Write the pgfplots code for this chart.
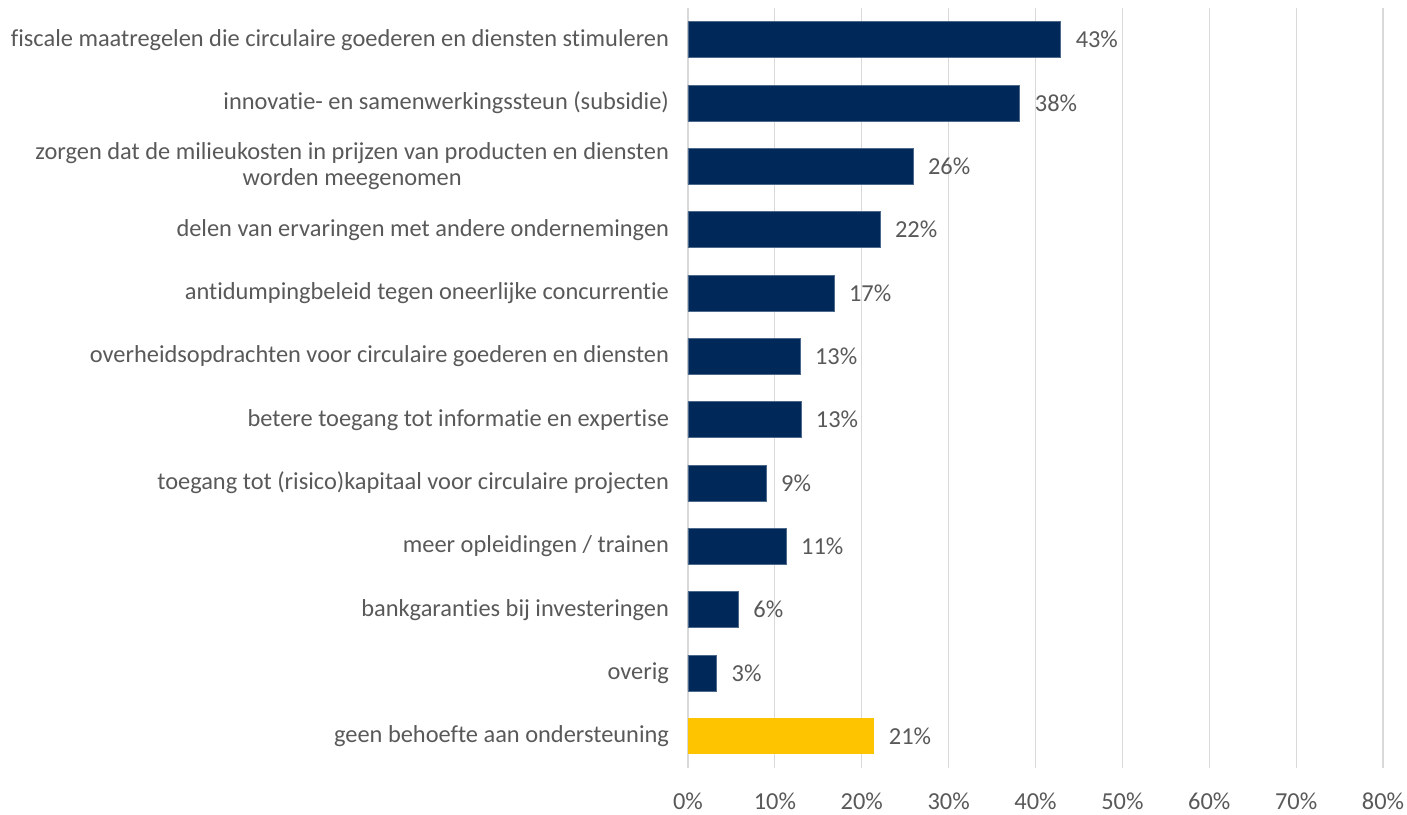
\documentclass[border=0pt]{standalone}
\usepackage{fontspec}
\setmainfont{Carlito}[Ligatures=NoCommon]
\usepackage{pgfplots}
\pgfplotsset{compat=1.18}
\definecolor{navy}{HTML}{002858}
\definecolor{gold}{HTML}{FFC400}
\definecolor{txt}{HTML}{595959}
\definecolor{grd}{HTML}{D9D9D9}
\begin{document}
\begin{tikzpicture}
\begin{axis}[
  name=ax,
  scale only axis,
  width=347.5pt, height=380pt,
  xbar, bar width=18pt, bar shift=0pt,
  xmin=0, xmax=80,
  ymin=-0.5, ymax=11.5,
  y dir=reverse,
  xtick={0,10,...,80},
  xticklabel={\pgfmathprintnumber{\tick}\%},
  ytick={0,...,11},
  yticklabels={
    fiscale maatregelen die circulaire goederen en diensten stimuleren,
    innovatie- en samenwerkingssteun (subsidie),
    {zorgen dat de milieukosten in prijzen van producten en diensten\\worden meegenomen},
    delen van ervaringen met andere ondernemingen,
    antidumpingbeleid tegen oneerlijke concurrentie,
    overheidsopdrachten voor circulaire goederen en diensten,
    betere toegang tot informatie en expertise,
    toegang tot (risico)kapitaal voor circulaire projecten,
    meer opleidingen / trainen,
    bankgaranties bij investeringen,
    overig,
    geen behoefte aan ondersteuning},
  yticklabel style={align=center, font=\fontsize{12.2}{13}\selectfont, text=txt, xshift=-6pt},
  xticklabel style={font=\fontsize{12.2}{13}\selectfont, text=txt, yshift=-9pt},
  /pgf/number format/assume math mode=true,
  major tick length=0pt,
  axis line style={draw=none},
  xmajorgrids, major grid style={grd, line width=0.6pt},
  nodes near coords={\pgfmathprintnumber[precision=0,fixed]{\pgfplotspointmeta}\%},
  point meta=x,
  nodes near coords style={font=\fontsize{12.2}{13}\selectfont, text=txt, anchor=west, xshift=4pt},
  clip=false,
]
\addplot[fill=navy, draw=navy!70] coordinates {
  (42.9,0) (38.2,1) (25.9,2) (22.1,3) (16.8,4) (12.9,5) (13.0,6) (9.0,7) (11.3,8) (5.8,9) (3.3,10)};
\addplot[fill=gold, draw=none] coordinates {(21.4,11)};
\end{axis}
\pgfresetboundingbox
\path[use as bounding box] ([shift={(-344pt,-23pt)}]ax.south west) rectangle ([shift={(12pt,4pt)}]ax.north east);
\end{tikzpicture}
\end{document}
